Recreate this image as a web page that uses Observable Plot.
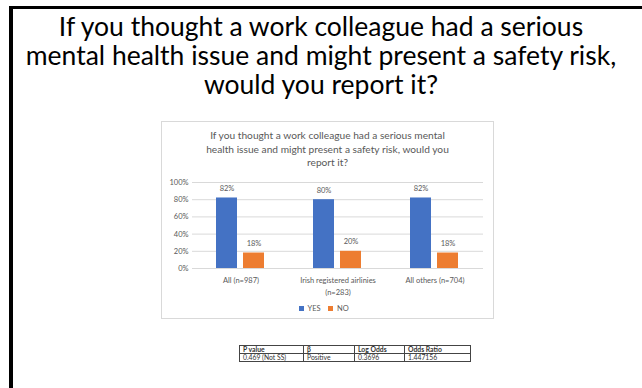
<!DOCTYPE html>
<html><head><meta charset="utf-8">
<script src="https://cdn.jsdelivr.net/npm/d3@7"></script>
<script src="https://cdn.jsdelivr.net/npm/@observablehq/plot@0.6"></script>
<style>
body{margin:0;width:642px;height:388px;overflow:hidden;background:#fff;font-family:Lato,sans-serif;position:relative}
#frame{position:absolute;left:9px;top:6px;right:0;bottom:0;border-top:3px solid #000;border-left:4px solid #000}
#title{position:absolute;left:13px;width:616px;top:12px;text-align:center;font-size:26.5px;line-height:29px;color:#000}
#box{position:absolute;left:161px;top:121px;width:331px;height:196px;border:1px solid #d9d9d9;box-sizing:content-box}
#ctitle{position:absolute;left:0;right:0;top:7px;text-align:center;font-size:10.2px;line-height:13.5px;color:#595959}
#chart{position:absolute;left:0;top:48px}
#legend{position:absolute;left:0;right:0;top:181px;display:flex;justify-content:center}
#tbl{position:absolute;left:239px;top:345px;border-collapse:collapse;font-size:6.8px;color:#333;table-layout:fixed}
#tbl td{border:1px solid #444;height:7px;line-height:7px;padding:0 3px;white-space:nowrap;overflow:hidden;vertical-align:middle;box-sizing:content-box}
#tbl tr:first-child td{font-weight:bold}
</style>
</head><body>
<div id="frame"></div>
<div id="title">If you thought a work colleague had a serious<br>mental health issue and might present a safety risk,<br>would you report it?</div>
<div id="box">
  <div id="ctitle">If you thought a work colleague had a serious mental<br>health issue and might present a safety risk, would you<br>report it?</div>
  <div id="chart"></div>
  <div id="legend"></div>
</div>
<table id="tbl"></table>
<script>
const groups = ["All (n=987)", "Irish registered airlinies\n(n=283)", "All others (n=704)"];
const series = ["YES", "NO"];
const yesValues = [82, 80, 82];
const noValues = [18, 20, 18];
const colors = ["#4472C4", "#ED7D31"];
const yTicks = [0, 20, 40, 60, 80, 100];
const tableHeader = ["P value", "β", "Log Odds", "Odds Ratio"];
const tableRow = ["0.469 (Not SS)", "Positive", "0.3696", "1.447156"];
const colWidths = [57, 44, 43, 59];

const data = [];
groups.forEach((g, i) => {
  data.push({group: g, series: "YES", value: yesValues[i]});
  data.push({group: g, series: "NO", value: noValues[i]});
});

const chart = Plot.plot({
  width: 331,
  height: 128,
  marginLeft: 29,
  marginRight: 10,
  marginTop: 12,
  marginBottom: 30,
  style: {fontFamily: "Lato, sans-serif", fontSize: "7.5px", color: "#595959", background: "transparent"},
  fx: {domain: groups, paddingInner: 0, paddingOuter: 0, axis: null},
  x: {domain: series, axis: null, paddingInner: 0.22, paddingOuter: 0.88},
  y: {domain: [0, 100], axis: null},
  color: {domain: series, range: colors},
  marks: [
    Plot.gridY(yTicks, {stroke: "#d9d9d9", strokeOpacity: 1}),
    Plot.axisY(yTicks, {tickFormat: d => d + "%", label: null, tickSize: 0, tickPadding: 4, fontSize: 7.5, facetAnchor: "left"}),
    Plot.axisFx({tickSize: 0, tickPadding: 6, label: null, fontSize: 7.5, lineHeight: 1.6, anchor: "bottom"}),
    Plot.barY(data, {fx: "group", x: "series", y: "value", fill: "series"}),
    Plot.text(data, {fx: "group", x: "series", y: "value", text: d => d.value + "%", dy: -9.5, fill: "#595959", fontSize: 7.5})
  ]
});
document.getElementById("chart").appendChild(chart);

const leg = Plot.legend({
  color: {domain: series, range: colors},
  swatchSize: 5,
  style: {fontFamily: "Lato, sans-serif", fontSize: "7.5px", color: "#595959", minHeight: "10px"}
});
document.getElementById("legend").appendChild(leg);

const tbl = document.getElementById("tbl");
[tableHeader, tableRow].forEach(row => {
  const tr = document.createElement("tr");
  row.forEach((c, i) => {
    const td = document.createElement("td");
    td.textContent = c;
    td.style.width = colWidths[i] + "px";
    tr.appendChild(td);
  });
  tbl.appendChild(tr);
});
</script>
</body></html>
